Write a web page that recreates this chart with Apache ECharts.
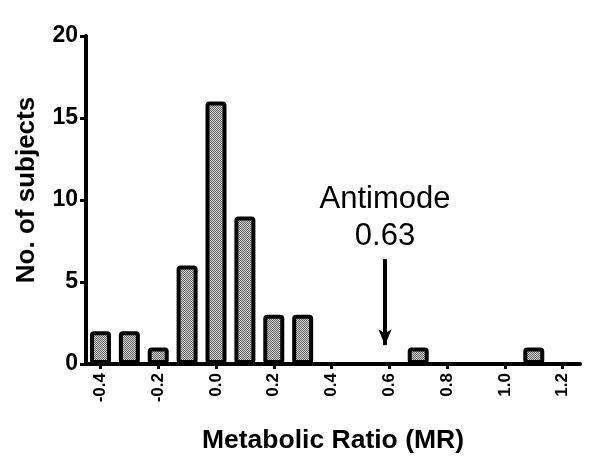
<!DOCTYPE html>
<html>
<head>
<meta charset="utf-8">
<script src="https://cdn.jsdelivr.net/npm/echarts@6/dist/echarts.min.js"></script>
<style>
html,body{margin:0;padding:0;background:#fff;}
#chart{width:600px;height:461px;}
</style>
</head>
<body>
<div id="chart"></div>
<script>
// Data
var binCenters = [-0.4, -0.3, -0.2, -0.1, 0.0, 0.1, 0.2, 0.3, 0.7, 1.1];
var subjectCounts = [2, 2, 1, 6, 16, 9, 3, 3, 1, 1];
var xTickValues = [-0.4, -0.2, 0.0, 0.2, 0.4, 0.6, 0.8, 1.0, 1.2];
var antimodeArrowX = 0.585;
var antimodeArrowY = [6.4, 1.15];
var antimodeText = 'Antimode\n0.63';

// Pattern fill (style only)
var pc = document.createElement('canvas');
pc.width = 2; pc.height = 2;
var pctx = pc.getContext('2d');
pctx.fillStyle = '#cccccc'; pctx.fillRect(0,0,2,2);
pctx.fillStyle = '#6a6a6a'; pctx.fillRect(0,0,1,1); pctx.fillRect(1,1,1,1);

var FONT = '"Liberation Sans", Arial, sans-serif';
var chart = echarts.init(document.getElementById('chart'), null, {renderer:'canvas'});
var barData = binCenters.map(function(x,i){ return [x, subjectCounts[i]]; });

chart.setOption({
  animation: false,
  backgroundColor: '#fff',
  grid: {left: 86, right: 20, top: 36, bottom: 97, containLabel: false},
  xAxis: {
    type: 'value', min: -0.45, max: 1.26,
    splitLine: {show: false},
    axisLine: {show: true, onZero: false, lineStyle: {color: '#000', width: 4}},
    axisTick: {show: true, customValues: xTickValues, length: 5, lineStyle: {color: '#000', width: 3}},
    axisLabel: {show: true, customValues: xTickValues, rotate: 90, margin: 9,
      color: '#000', fontWeight: 'bold', fontSize: 17, fontFamily: FONT,
      formatter: function(v){ return v.toFixed(1); }},
    name: 'Metabolic Ratio (MR)', nameLocation: 'middle', nameGap: 63,
    nameTextStyle: {color: '#000', fontWeight: 'bold', fontSize: 26.5, fontFamily: FONT}
  },
  yAxis: {
    type: 'value', min: 0, max: 20, interval: 5,
    splitLine: {show: false},
    axisLine: {show: true, onZero: false, lineStyle: {color: '#000', width: 4}},
    axisTick: {show: true, length: 6, lineStyle: {color: '#000', width: 3}},
    axisLabel: {color: '#000', fontWeight: 'bold', fontSize: 23, fontFamily: FONT, margin: 8},
    name: 'No. of subjects', nameLocation: 'middle', nameGap: 46, nameRotate: 90,
    nameTextStyle: {color: '#000', fontWeight: 'bold', fontSize: 26, fontFamily: FONT, padding: [0, 0, 0, 20]}
  },
  series: [{
    type: 'bar',
    data: barData,
    barWidth: 21,
    itemStyle: {color: {image: pc, repeat: 'repeat'}, borderColor: '#000', borderWidth: 4, borderRadius: 2},
    markLine: {
      silent: true,
      symbol: ['none', 'arrow'],
      symbolSize: [10, 16],
      lineStyle: {color: '#000', width: 4, type: 'solid'},
      label: {show: true, position: 'start', formatter: antimodeText, distance: 4,
        color: '#000', fontSize: 31, lineHeight: 37, fontFamily: FONT, fontWeight: 'normal'},
      data: [[{coord: [antimodeArrowX, antimodeArrowY[0]]}, {coord: [antimodeArrowX, antimodeArrowY[1]]}]]
    }
  }]
});
</script>
</body>
</html>
